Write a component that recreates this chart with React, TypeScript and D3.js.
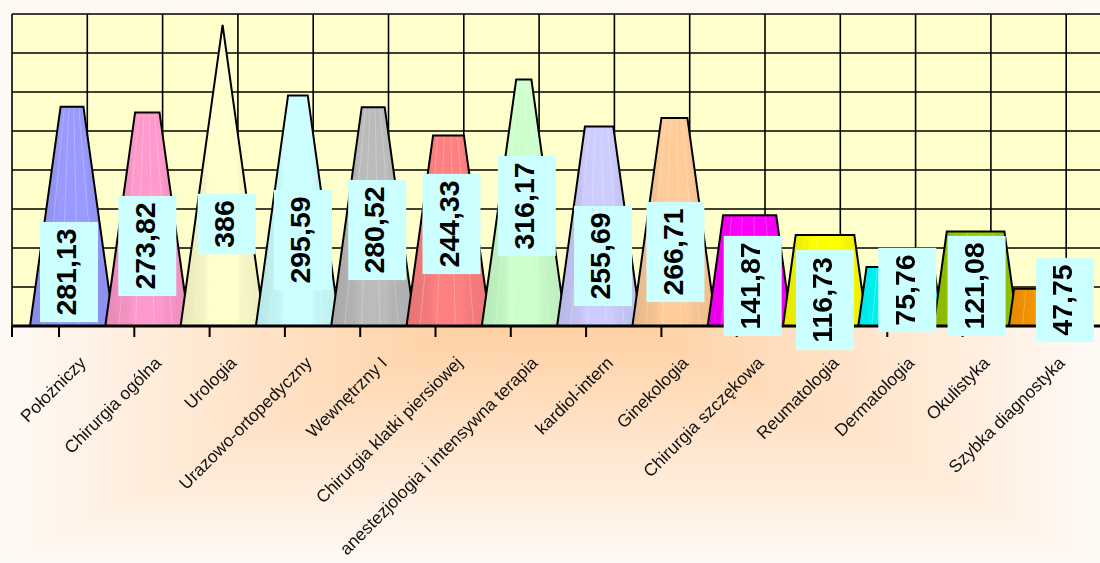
import React from 'react';
import * as d3 from 'd3';

// Oddziały szpitalne i wartości wskaźnika
const departments = [
  'Położniczy',
  'Chirurgia ogólna',
  'Urologia',
  'Urazowo-ortopedyczny',
  'Wewnętrzny I',
  'Chirurgia klatki piersiowej',
  'anestezjologia i intensywna terapia',
  'kardiol-intern',
  'Ginekologia',
  'Chirurgia szczękowa',
  'Reumatologia',
  'Dermatologia',
  'Okulistyka',
  'Szybka diagnostyka',
];
const values = [281.13, 273.82, 386, 295.59, 280.52, 244.33, 316.17, 255.69, 266.71, 141.87, 116.73, 75.76, 121.08, 47.75];
const barColors = [
  '#9999FF', '#FF99CC', '#FFFFCC', '#CCFFFF', '#BBBBBB', '#FF8080', '#CCFFCC',
  '#CCCCFF', '#FFCC99', '#FF00FF', '#FFFF00', '#00FFFF', '#99CC00', '#FF9900',
];
const yTicks = d3.range(0, 401, 50);

// Layout of the value boxes (pixel centre line and horizontal nudge)
const labelCenterY = [272, 246, 224, 240, 230, 224, 206, 256, 252, 286, 300, 290, 286, 300];
const labelShiftX = [-3, 0, 4, 5, 4, 3, 3, 4, 1, 3, 0, 7, 1, 14];

const W = 1100;
const H = 563;
const FONT = "'Liberation Sans', Arial, Helvetica, sans-serif";

const plLocale = d3.formatLocale({ decimal: ',', thousands: ' ', grouping: [3], currency: ['', ' zł'] });
const fmt = plLocale.format('.2~f');

// Arial/Liberation Sans Bold advance widths (em) for the digits used in labels
const charWidth = (ch: string) => (ch === ',' ? 0.278 : 0.556);
const textWidth = (s: string, size: number) => s.split('').reduce((a, c) => a + charWidth(c), 0) * size;

export default function App() {
  const step = 75.3;
  const x = d3
    .scaleBand<string>()
    .domain(departments)
    .range([34.35, 34.35 + step * departments.length])
    .padding(0);
  const y = d3.scaleLinear().domain([0, 400]).range([326, 14]);

  const depthShift = 22.35; // back wall offset of the 3D plot
  const plotLeft = x.range()[0] - depthShift;
  const plotTop = y(400);
  const base = y(0);
  const apex = d3.max(values) as number;
  const baseW = 84;

  const gridX = [...departments.map((d) => (x(d) as number) - depthShift), x.range()[1] - depthShift];

  const cx = (d: string) => (x(d) as number) + x.bandwidth() / 2;

  // rectangular "from centre" background gradient built from four triangles
  const gc = [W / 2, H / 2];
  const bgCenter = '#FFC994';
  const bgEdge = '#FFFAF6';

  const labelFont = 28.5;

  return (
    <svg
      width={W}
      height={H}
      viewBox={`0 0 ${W} ${H}`}
      style={{ position: 'fixed', left: 0, top: 0, display: 'block' }}
      fontFamily={FONT}
    >
      <defs>
        <linearGradient id="bg-top" gradientUnits="userSpaceOnUse" x1={0} y1={0} x2={0} y2={gc[1]}>
          <stop offset="0" stopColor={bgEdge} />
          <stop offset="1" stopColor={bgCenter} />
        </linearGradient>
        <linearGradient id="bg-bottom" gradientUnits="userSpaceOnUse" x1={0} y1={H} x2={0} y2={gc[1]}>
          <stop offset="0" stopColor={bgEdge} />
          <stop offset="1" stopColor={bgCenter} />
        </linearGradient>
        <linearGradient id="bg-left" gradientUnits="userSpaceOnUse" x1={0} y1={0} x2={gc[0]} y2={0}>
          <stop offset="0" stopColor={bgEdge} />
          <stop offset="1" stopColor={bgCenter} />
        </linearGradient>
        <linearGradient id="bg-right" gradientUnits="userSpaceOnUse" x1={W} y1={0} x2={gc[0]} y2={0}>
          <stop offset="0" stopColor={bgEdge} />
          <stop offset="1" stopColor={bgCenter} />
        </linearGradient>
        {departments.map((d, i) => {
          const c = d3.color(barColors[i]) as d3.RGBColor;
          return (
            <linearGradient key={d} id={`bar-${i}`} x1="0" y1="0" x2="1" y2="0">
              <stop offset="0" stopColor={c.darker(0.3).formatHex()} />
              <stop offset="0.28" stopColor={c.darker(0.12).formatHex()} />
              <stop offset="0.34" stopColor={c.formatHex()} />
              <stop offset="0.66" stopColor={c.formatHex()} />
              <stop offset="0.72" stopColor={c.darker(0.1).formatHex()} />
              <stop offset="1" stopColor={c.darker(0.22).formatHex()} />
            </linearGradient>
          );
        })}
        <clipPath id="chart-clip">
          <rect x={0} y={0} width={W} height={H} />
        </clipPath>
      </defs>

      {/* chart area background */}
      <g shapeRendering="crispEdges">
        <polygon points={`0,0 ${W},0 ${gc[0]},${gc[1]}`} fill="url(#bg-top)" />
        <polygon points={`0,${H} ${W},${H} ${gc[0]},${gc[1]}`} fill="url(#bg-bottom)" />
        <polygon points={`0,0 0,${H} ${gc[0]},${gc[1]}`} fill="url(#bg-left)" />
        <polygon points={`${W},0 ${W},${H} ${gc[0]},${gc[1]}`} fill="url(#bg-right)" />
      </g>

      <g clipPath="url(#chart-clip)">
        {/* plot area wall */}
        <rect x={plotLeft} y={plotTop} width={W + 60 - plotLeft} height={base - plotTop} fill="#FFFFCC" />

        {/* gridlines */}
        {yTicks.map((t) => (
          <line key={`h${t}`} x1={plotLeft} x2={W + 60} y1={y(t)} y2={y(t)} stroke="#000" strokeWidth={1.6} />
        ))}
        {gridX.map((gx, i) => (
          <line key={`v${i}`} x1={gx} x2={gx} y1={plotTop} y2={base} stroke="#000" strokeWidth={1.6} />
        ))}

        {/* pyramid bars, truncated at each value */}
        {departments.map((d, i) => {
          const v = values[i];
          const c = cx(d);
          const yt = y(v);
          const topW = baseW * (1 - v / apex);
          const path = d3.path();
          path.moveTo(c - baseW / 2, base);
          path.lineTo(c - topW / 2, yt);
          path.lineTo(c + topW / 2, yt);
          path.lineTo(c + baseW / 2, base);
          path.closePath();
          const facets = [0.16, 0.36, 0.58, 0.8];
          return (
            <g key={d}>
              <path d={path.toString()} fill={`url(#bar-${i})`} />
              {facets.map((f) => (
                <line
                  key={f}
                  x1={c - topW / 2 + f * topW}
                  y1={yt + 2}
                  x2={c - baseW / 2 + f * baseW}
                  y2={base}
                  stroke="#fff"
                  strokeOpacity={0.28}
                  strokeWidth={0.9}
                />
              ))}
              <path d={path.toString()} fill="none" stroke="#000" strokeWidth={2} strokeLinejoin="miter" />
            </g>
          );
        })}

        {/* category axis */}
        <line x1={plotLeft} x2={W} y1={base} y2={base} stroke="#000" strokeWidth={3} />
        <line x1={plotLeft} x2={plotLeft} y1={base} y2={base + 11} stroke="#000" strokeWidth={2} />
        {departments.map((d) => (
          <line key={`t${d}`} x1={cx(d) - 13} x2={cx(d) - 13} y1={base} y2={base + 11} stroke="#000" strokeWidth={2} />
        ))}

        {/* value boxes */}
        {departments.map((d, i) => {
          const label = fmt(values[i]);
          const len = textWidth(label, labelFont);
          const bh = len + 13;
          const bw = 58;
          const bx = cx(d) + labelShiftX[i];
          const by = labelCenterY[i];
          return (
            <g key={`l${d}`}>
              <rect x={bx - bw / 2} y={by - bh / 2} width={bw} height={bh} fill="#CCFFFF" />
              <text
                transform={`translate(${bx},${by}) rotate(-90)`}
                textAnchor="middle"
                y={0.358 * labelFont - 3}
                fontSize={labelFont}
                fontWeight="bold"
                fill="#000"
              >
                {label}
              </text>
            </g>
          );
        })}

        {/* rotated category labels */}
        {departments.map((d) => (
          <text
            key={`c${d}`}
            transform={`translate(${cx(d) + 15},${base + 38}) rotate(-45)`}
            textAnchor="end"
            fontSize={17.5}
            fill="#111"
          >
            {d}
          </text>
        ))}
      </g>
    </svg>
  );
}
